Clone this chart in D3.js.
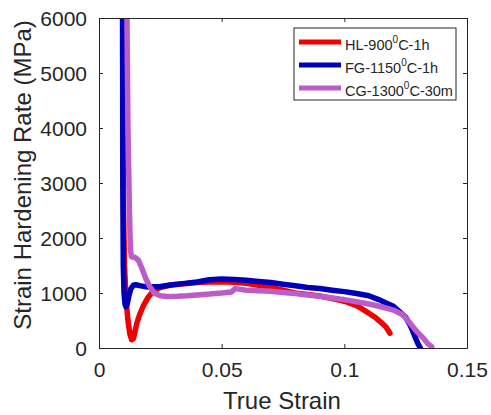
<!DOCTYPE html>
<html>
<head>
<meta charset="utf-8">
<script src="https://cdn.jsdelivr.net/npm/d3@7"></script>
<style>
  body { margin: 0; background: #fff; }
  svg { font-family: "Liberation Sans", Arial, sans-serif; }
  .axis text { fill: #262626; }
</style>
</head>
<body>
<svg id="chart" width="491" height="415"></svg>
<script>

// strain / hardening rate
var hl_strain = [0.0098, 0.0100, 0.0104, 0.0110, 0.0118, 0.0126, 0.0133, 0.0140, 0.0147, 0.0154, 0.0165, 0.018, 0.020, 0.022, 0.025, 0.029, 0.035, 0.040, 0.045, 0.050, 0.055, 0.060, 0.065, 0.070, 0.075, 0.080, 0.085, 0.090, 0.095, 0.100, 0.105, 0.109, 0.1125, 0.1146, 0.117, 0.1186];
var hl_rate   = [6000, 2500, 1500, 900, 500, 250, 150, 170, 300, 450, 600, 760, 920, 1030, 1100, 1145, 1170, 1190, 1200, 1205, 1195, 1175, 1140, 1100, 1050, 1000, 975, 945, 900, 850, 770, 660, 560, 480, 380, 270];

var fg_strain = [0.0096, 0.0097, 0.0099, 0.0102, 0.0106, 0.0110, 0.0115, 0.0122, 0.0130, 0.0140, 0.015, 0.017, 0.020, 0.025, 0.030, 0.035, 0.040, 0.045, 0.050, 0.055, 0.060, 0.065, 0.070, 0.075, 0.080, 0.085, 0.090, 0.095, 0.100, 0.105, 0.110, 0.114, 0.117, 0.120, 0.123, 0.125, 0.127, 0.1288, 0.130, 0.131];
var fg_rate   = [6000, 3000, 1500, 1000, 800, 750, 800, 950, 1080, 1140, 1150, 1130, 1110, 1120, 1150, 1175, 1200, 1240, 1255, 1245, 1230, 1210, 1190, 1160, 1130, 1100, 1080, 1050, 1025, 990, 950, 880, 820, 760, 640, 560, 400, 205, 80, 0];

var cg_strain = [0.0114, 0.0118, 0.0124, 0.0128, 0.0132, 0.0145, 0.016, 0.0175, 0.019, 0.0208, 0.0225, 0.025, 0.0276, 0.032, 0.036, 0.040, 0.045, 0.050, 0.054, 0.0555, 0.057, 0.060, 0.065, 0.070, 0.075, 0.080, 0.085, 0.090, 0.098, 0.100, 0.105, 0.110, 0.115, 0.120, 0.124, 0.1268, 0.1295, 0.1322, 0.134, 0.1356];
var cg_rate   = [6000, 4000, 2500, 1800, 1660, 1650, 1600, 1450, 1270, 1110, 1000, 950, 935, 940, 950, 965, 980, 1000, 1020, 1080, 1070, 1050, 1040, 1030, 1010, 990, 965, 940, 890, 880, 840, 800, 750, 690, 600, 450, 300, 180, 80, 25];

var series_names = ['HL-900', 'FG-1150', 'CG-1300'];
var series_tails = ['C-1h', 'C-1h', 'C-30m'];
var series_colors = ['#f20000', '#0000bb', '#bb5cc9'];

var x_ticks = [0, 0.05, 0.1, 0.15];
var y_ticks = [0, 1000, 2000, 3000, 4000, 5000, 6000];

var margin = {top: 18, right: 24, bottom: 67, left: 99};
var width = 491 - margin.left - margin.right;
var height = 415 - margin.top - margin.bottom;

var x = d3.scaleLinear().domain([0, 0.15]).range([0, width]);
var y = d3.scaleLinear().domain([0, 6000]).range([height, 0]);

var svg = d3.select('#chart')
            .append('g')
            .attr('transform', 'translate(' + margin.left + ',' + margin.top + ')');

// curves
var line = d3.line().x(d => x(d[0])).y(d => y(d[1]));
var all_series = [
  d3.zip(hl_strain, hl_rate),
  d3.zip(fg_strain, fg_rate),
  d3.zip(cg_strain, cg_rate)
];

svg.append('defs').append('clipPath').attr('id', 'clip')
   .append('rect').attr('width', width).attr('height', height);

all_series.forEach((s, i) => {
  svg.append('path')
     .datum(s)
     .attr('clip-path', 'url(#clip)')
     .attr('fill', 'none')
     .attr('stroke', series_colors[i])
     .attr('stroke-width', 5.5)
     .attr('stroke-linejoin', 'round')
     .attr('stroke-linecap', 'round')
     .attr('d', line);
});

// box axes, ticks inward like matlab
var fmt = d => d === 0 ? '0' : String(d);

svg.append('g')
   .attr('class', 'axis')
   .attr('transform', 'translate(0,' + height + ')')
   .call(d3.axisBottom(x).tickValues(x_ticks).tickFormat(fmt).tickSizeInner(-4).tickSizeOuter(0).tickPadding(14))
   .call(g => g.selectAll('text').attr('font-size', 21));

svg.append('g')
   .attr('class', 'axis')
   .call(d3.axisLeft(y).tickValues(y_ticks).tickFormat(d3.format('d')).tickSizeInner(-4).tickSizeOuter(0).tickPadding(12))
   .call(g => g.selectAll('text').attr('font-size', 21).attr('dy', '0.36em'));

svg.append('g')
   .attr('class', 'axis')
   .call(d3.axisTop(x).tickValues(x_ticks).tickFormat('').tickSizeInner(-4).tickSizeOuter(0));

svg.append('g')
   .attr('class', 'axis')
   .attr('transform', 'translate(' + width + ',0)')
   .call(d3.axisRight(y).tickValues(y_ticks).tickFormat('').tickSizeInner(-4).tickSizeOuter(0));

svg.selectAll('.axis path, .axis line').attr('stroke', '#262626');

// axis titles
svg.append('text')
   .attr('x', width / 2 - 1)
   .attr('y', height + 61)
   .attr('text-anchor', 'middle')
   .attr('font-size', 24)
   .attr('fill', '#262626')
   .text('True Strain');

svg.append('text')
   .attr('transform', 'translate(' + (-margin.left + 31) + ',' + (height / 2 - 8) + ') rotate(-90)')
   .attr('text-anchor', 'middle')
   .attr('font-size', 24)
   .attr('fill', '#262626')
   .text('Strain Hardening Rate (MPa)');

// legend
var legend = svg.append('g').attr('transform', 'translate(' + (294 - margin.left) + ',' + (28 - margin.top) + ')');

legend.append('rect')
      .attr('width', 162)
      .attr('height', 72)
      .attr('fill', '#fff')
      .attr('stroke', '#262626')
      .attr('stroke-width', 1);

series_names.forEach((name, i) => {
  var ly = 14 + i * 23;
  legend.append('line')
        .attr('x1', 5).attr('x2', 47)
        .attr('y1', ly).attr('y2', ly)
        .attr('stroke', series_colors[i])
        .attr('stroke-width', 5);

  var t = legend.append('text')
                .attr('x', 51)
                .attr('y', ly + 8)
                .attr('font-size', 14.5)
                .attr('fill', '#262626');
  t.append('tspan').text(name);
  t.append('tspan').attr('font-size', 10).attr('dy', -7).text('0');
  t.append('tspan').attr('dy', 7).text(series_tails[i]);
});

</script>
</body>
</html>
